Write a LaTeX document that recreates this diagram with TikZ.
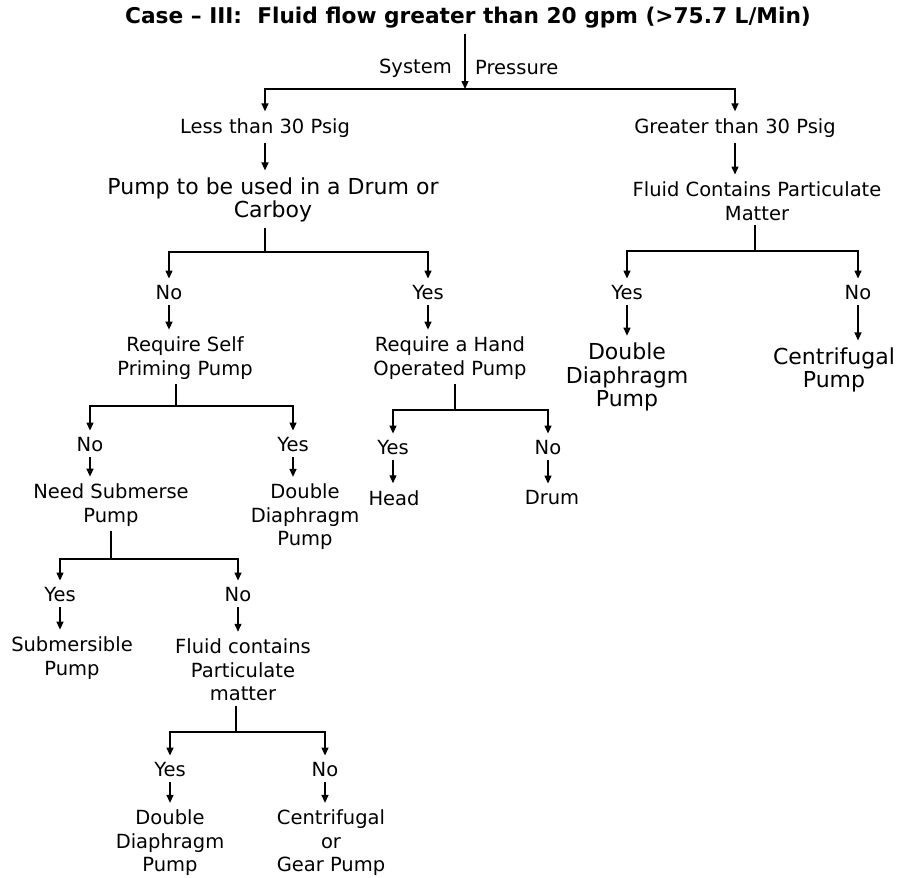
\documentclass[tikz,border=0pt]{standalone}
\usepackage{fontspec}
\setmainfont{DejaVu Sans}
\usetikzlibrary{arrows.meta}

\tikzset{
  lbl/.style={font=\fontsize{19.5}{23.5}\selectfont, align=center, inner sep=1pt},
  big/.style={font=\fontsize{22}{23.5}\selectfont, align=center, inner sep=1pt},
  head/.style={font=\fontsize{21.7}{22}\selectfont\bfseries, inner sep=1pt},
  link/.style={line width=1.3pt, shorten <=4pt},
  arr/.style={link, -{Triangle[length=8pt,width=7pt]}, shorten >=6pt},
  split/.style={arr, shorten <=0pt}
}

\begin{document}
\begin{tikzpicture}[x=1pt,y=-1pt]
  \useasboundingbox[fill=white] (0,0) rectangle (898,878);

  % title and pressure split
  \node[head] (case) at (468,18) {Case -- III:\ \ Fluid flow greater than 20 gpm (>75.7 L/Min)};
  \node[lbl,anchor=east] (sys) at (453,68) {System};
  \node[lbl,anchor=west] (pres) at (474,68) {Pressure};
  \coordinate (top) at (465,89);
  \draw[arr,shorten >=0pt] (case.south -| top) -- (top);
  \node[lbl] (less) at (265,128) {Less than 30 Psig};
  \node[lbl] (more) at (735,128) {Greater than 30 Psig};
  \draw[split] (top) -| (less.north);
  \draw[split] (top) -| (more.north);

  % right side
  \node[lbl] (fluid) at (757,201) {Fluid Contains Particulate\\Matter};
  \draw[arr] (more) -- (more |- fluid.north);
  \coordinate (fbar) at (755,251);
  \draw[link] (fbar |- fluid.south) -- (fbar);
  \node[lbl] (fyes) at (627,293) {Yes};
  \node[lbl] (fno) at (858,293) {No};
  \draw[split] (fbar) -| (fyes.north);
  \draw[split] (fbar) -| (fno.north);
  \node[big] (fdd) at (627,377) {Double\\Diaphragm\\Pump};
  \node[big] (fcent) at (834,370) {Centrifugal\\Pump};
  \draw[arr] (fyes) -- (fyes |- fdd.north);
  \draw[arr] (fno) -- (fno |- fcent.north);

  % left side
  \node[big] (drum) at (273,200) {Pump to be used in a Drum or\\Carboy};
  \draw[arr] (less) -- (less |- drum.north);
  \coordinate (dbar) at (265,252);
  \draw[link] (dbar |- drum.south) -- (dbar);
  \node[lbl] (dno) at (169,293) {No};
  \node[lbl] (dyes) at (428,293) {Yes};
  \draw[split] (dbar) -| (dno.north);
  \draw[split] (dbar) -| (dyes.north);

  % self priming branch
  \node[lbl] (self) at (185,358) {Require Self\\Priming Pump};
  \draw[arr] (dno) -- (dno |- self.north);
  \coordinate (sbar) at (176,406);
  \draw[link] (sbar |- self.south) -- (sbar);
  \node[lbl] (sno) at (90,445) {No};
  \node[lbl] (syes) at (293,445) {Yes};
  \draw[split] (sbar) -| (sno.north);
  \draw[split] (sbar) -| (syes.north);
  \node[lbl] (sdd) at (305,517) {Double\\Diaphragm\\Pump};
  \draw[arr] (syes) -- (syes |- sdd.north);
  \node[lbl] (subm) at (111,505) {Need Submerse\\Pump};
  \draw[arr] (sno) -- (sno |- subm.north);

  % hand operated branch
  \node[lbl] (hand) at (450,358) {Require a Hand\\Operated Pump};
  \draw[arr] (dyes) -- (dyes |- hand.north);
  \coordinate (hbar) at (455,410);
  \draw[link] (hbar |- hand.south) -- (hbar);
  \node[lbl] (hyes) at (393,448) {Yes};
  \node[lbl] (hno) at (548,448) {No};
  \draw[split] (hbar) -| (hyes.north);
  \draw[split] (hbar) -| (hno.north);
  \node[lbl] (hhead) at (394,498) {Head};
  \node[lbl] (hdrum) at (552,498) {Drum};
  \draw[arr] (hyes) -- (hyes |- hhead.north);
  \draw[arr] (hno) -- (hno |- hdrum.north);

  % submerse branch
  \coordinate (mbar) at (111,559);
  \draw[link] (mbar |- subm.south) -- (mbar);
  \node[lbl] (myes) at (60,595) {Yes};
  \node[lbl] (mno) at (238,595) {No};
  \draw[split] (mbar) -| (myes.north);
  \draw[split] (mbar) -| (mno.north);
  \node[lbl] (msub) at (72,658) {Submersible\\Pump};
  \node[lbl] (mfluid) at (243,670) {Fluid contains\\Particulate\\matter};
  \draw[arr] (myes) -- (myes |- msub.north);
  \draw[arr] (mno) -- (mno |- mfluid.north);

  % particulate branch
  \coordinate (pbar) at (236,732);
  \draw[link] (pbar |- mfluid.south) -- (pbar);
  \node[lbl] (pyes) at (170,770) {Yes};
  \node[lbl] (pno) at (325,770) {No};
  \draw[split] (pbar) -| (pyes.north);
  \draw[split] (pbar) -| (pno.north);
  \node[lbl] (pdd) at (170,843) {Double\\Diaphragm\\Pump};
  \node[lbl] (pcg) at (331,843) {Centrifugal\\or\\Gear Pump};
  \draw[arr] (pyes) -- (pyes |- pdd.north);
  \draw[arr] (pno) -- (pno |- pcg.north);
\end{tikzpicture}
\end{document}
